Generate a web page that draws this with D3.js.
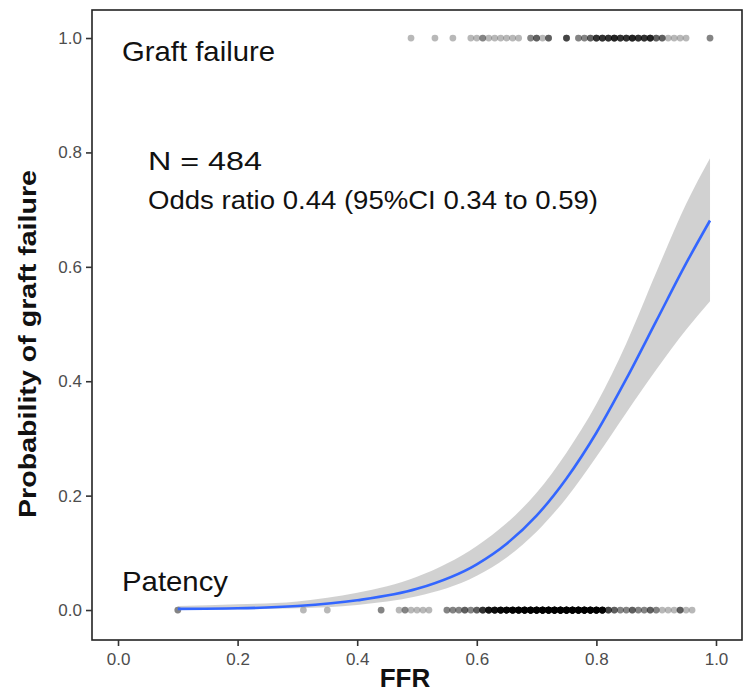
<!DOCTYPE html>
<html><head><meta charset="utf-8">
<script src="https://cdn.jsdelivr.net/npm/d3@7"></script>
<style>html,body{margin:0;padding:0;background:#fff;}svg{display:block;}</style>
</head><body>
<script>
// ---- data ----
const xTicks = [0.0, 0.2, 0.4, 0.6, 0.8, 1.0];
const yTicks = [0.0, 0.2, 0.4, 0.6, 0.8, 1.0];
// observed FFR values (value, number of grafts) — graft failure (y = 1)
const failureFFR = [[0.49,1],[0.53,1],[0.56,1],[0.59,1],[0.60,1],[0.61,2],[0.62,1],[0.63,1],[0.64,1],[0.65,1],[0.66,1],[0.67,1],
  [0.69,2],[0.70,3],[0.71,1],[0.72,3],[0.75,4],[0.77,2],[0.78,2],[0.79,3],[0.80,5],[0.81,5],[0.82,5],[0.83,6],[0.84,5],
  [0.85,5],[0.86,6],[0.87,5],[0.88,5],[0.89,6],[0.90,3],[0.91,3],[0.92,1],[0.93,1],[0.94,1],[0.95,1],[0.99,2]];
// patency (y = 0)
const patencyFFR = [[0.10,2],[0.31,1],[0.35,1],[0.44,2],[0.47,1],[0.48,2],[0.49,1],[0.50,1],[0.51,1],[0.52,1],
  [0.55,2],[0.56,2],[0.57,2],[0.58,3],[0.59,2],[0.60,3],[0.61,5],[0.62,8],[0.63,9],[0.64,11],[0.65,12],[0.66,13],[0.67,14],
  [0.68,16],[0.69,17],[0.70,18],[0.71,19],[0.72,20],[0.73,20],[0.74,21],[0.75,21],[0.76,21],[0.77,20],[0.78,19],[0.79,17],
  [0.80,15],[0.81,12],[0.82,4],[0.83,3],[0.84,2],[0.85,2],[0.86,3],[0.87,2],[0.88,2],[0.89,3],[0.90,2],[0.91,1],[0.92,1],
  [0.93,1],[0.94,3],[0.95,1],[0.96,1]];
// fitted logistic curve and 95% CI band
const fitX  = [0.10,0.20,0.30,0.40,0.50,0.60,0.65,0.70,0.75,0.80,0.85,0.90,0.95,0.99];
const fitP  = [0.002,0.003,0.007,0.017,0.037,0.080,0.116,0.165,0.230,0.310,0.404,0.505,0.606,0.681];
const fitLo = [0.000,0.001,0.003,0.009,0.024,0.060,0.092,0.137,0.196,0.268,0.345,0.420,0.490,0.540];
const fitHi = [0.007,0.010,0.015,0.030,0.058,0.112,0.152,0.205,0.275,0.360,0.466,0.590,0.710,0.790];

// ---- layout ----
const W = 743, H = 692;
const L = 92, R = 742, T = 10, B = 640;
const svg = d3.select("body").append("svg").attr("width", W).attr("height", H);
const x = d3.scaleLinear().domain([-0.0435, 1.0435]).range([L, R]);
const y = d3.scaleLinear().domain([-0.0524, 1.049]).range([B, T]);
const font = "'Liberation Sans', Arial, Helvetica, sans-serif";

// points
const pts = [];
failureFFR.forEach(([v, n]) => { for (let i = 0; i < n; i++) pts.push({x: v, y: 1}); });
patencyFFR.forEach(([v, n]) => { for (let i = 0; i < n; i++) pts.push({x: v, y: 0}); });
svg.append("g").selectAll("circle").data(pts).join("circle")
  .attr("cx", d => x(d.x)).attr("cy", d => y(d.y)).attr("r", 3.4)
  .attr("fill", "#000").attr("fill-opacity", 0.28);

// band
const band = fitX.map((v, i) => ({x: v, lo: fitLo[i], hi: fitHi[i], p: fitP[i]}));
svg.append("path").datum(band)
  .attr("d", d3.area().x(d => x(d.x)).y0(d => y(d.lo)).y1(d => y(d.hi)).curve(d3.curveMonotoneX))
  .attr("fill", "#999").attr("fill-opacity", 0.45);
svg.append("path").datum(band)
  .attr("d", d3.line().x(d => x(d.x)).y(d => y(d.p)).curve(d3.curveMonotoneX))
  .attr("fill", "none").attr("stroke", "#3366FF").attr("stroke-width", 2.6);

// frame
svg.append("rect").attr("x", L).attr("y", T).attr("width", R - L).attr("height", B - T)
  .attr("fill", "none").attr("stroke", "#222").attr("stroke-width", 1.6);

// axes
const xAxis = svg.append("g").attr("transform", `translate(0,${B})`)
  .call(d3.axisBottom(x).tickValues(xTicks).tickFormat(d3.format(".1f")).tickSize(6).tickSizeOuter(0));
const yAxis = svg.append("g").attr("transform", `translate(${L},0)`)
  .call(d3.axisLeft(y).tickValues(yTicks).tickFormat(d3.format(".1f")).tickSize(6).tickSizeOuter(0));
[xAxis, yAxis].forEach(g => {
  g.select(".domain").remove();
  g.selectAll(".tick line").attr("stroke", "#333").attr("stroke-width", 1.6);
  g.selectAll(".tick text").attr("fill", "#4d4d4d").attr("font-family", font).attr("font-size", 17);
});
xAxis.selectAll(".tick text").attr("dy", "1.05em").attr("y", 7);
yAxis.selectAll(".tick text").attr("x", -10);

// annotations
const txt = (s, tx, ty, size, len, weight) => svg.append("text").attr("x", tx).attr("y", ty)
  .attr("font-family", font).attr("font-size", size).attr("font-weight", weight || "normal")
  .attr("fill", "#111").attr("textLength", len).attr("lengthAdjust", "spacingAndGlyphs").text(s);
txt("Graft failure", 122, 61, 28, 153);
txt("Patency", 122, 591, 28, 106);
txt("N = 484", 148, 170, 25, 114);
txt("Odds ratio 0.44 (95%CI 0.34 to 0.59)", 148, 209, 25, 450);

svg.append("text").attr("x", 405).attr("y", 687).attr("text-anchor", "middle")
  .attr("font-family", font).attr("font-size", 26).attr("font-weight", "bold").attr("fill", "#111").text("FFR");
svg.append("text").attr("transform", "translate(36,344) rotate(-90)").attr("text-anchor", "middle")
  .attr("font-family", font).attr("font-size", 24).attr("font-weight", "bold").attr("fill", "#111")
  .attr("textLength", 348).attr("lengthAdjust", "spacingAndGlyphs").text("Probability of graft failure");
</script>
</body></html>
